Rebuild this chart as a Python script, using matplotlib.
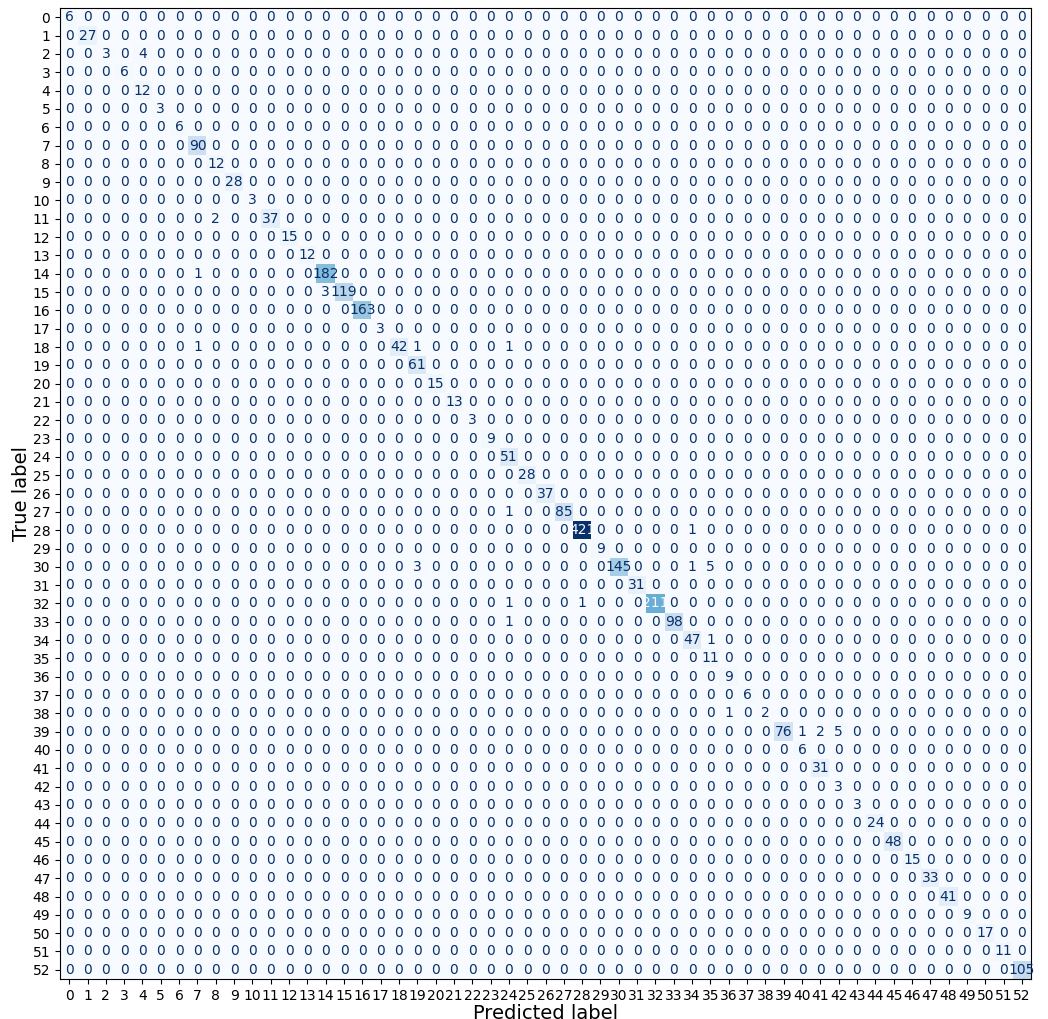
import numpy as np
import matplotlib
matplotlib.use("Agg")
from matplotlib import pyplot as plt

labels = [str(i) for i in range(53)]

# diagonal counts (correct predictions)
diag = [6, 27, 3, 6, 12, 3, 6, 90, 12, 28, 3, 37, 15, 12, 182, 119, 163, 3,
        42, 61, 15, 13, 3, 9, 51, 28, 37, 85, 421, 9, 145, 31, 211, 98, 47,
        11, 9, 6, 2, 76, 6, 31, 3, 3, 24, 48, 15, 33, 41, 9, 17, 11, 105]

# off-diagonal entries: (true, predicted, count)
off_rows = [2, 11, 14, 15, 18, 18, 18, 27, 28, 30, 30, 30, 32, 32, 33, 34, 38, 39, 39, 39]
off_cols = [4, 8, 7, 14, 7, 19, 24, 24, 34, 19, 34, 35, 24, 28, 24, 35, 36, 40, 41, 42]
off_vals = [4, 2, 1, 3, 1, 1, 1, 1, 1, 3, 1, 5, 1, 1, 1, 1, 1, 1, 2, 5]

n = len(labels)
cm = np.zeros((n, n), dtype=int)
cm[np.arange(n), np.arange(n)] = diag
cm[off_rows, off_cols] = off_vals

fig = plt.figure(figsize=(10.48, 10.19), dpi=100)
ax = fig.add_axes([0.0573, 0.0393, 0.9265, 0.9527])
cmap = plt.cm.Blues
ax.imshow(cm, cmap=cmap, interpolation="nearest", aspect="auto")

# white text on dark cells, dark text elsewhere (like sklearn)
thresh = (cm.max() + cm.min()) / 2.0
for i in range(n):
    for j in range(n):
        color = cmap(0.0) if cm[i, j] > thresh else cmap(1.0)
        ax.text(j, i, str(cm[i, j]), ha="center", va="center",
                color=color, fontsize=10)

ax.set_xticks(np.arange(n))
ax.set_yticks(np.arange(n))
ax.set_xticklabels(labels, fontsize=10)
ax.set_yticklabels(labels, fontsize=10)
ax.set_xlabel("Predicted label", fontsize=14, labelpad=1)
ax.set_ylabel("True label", fontsize=14, labelpad=1)

fig.savefig("out.png")
